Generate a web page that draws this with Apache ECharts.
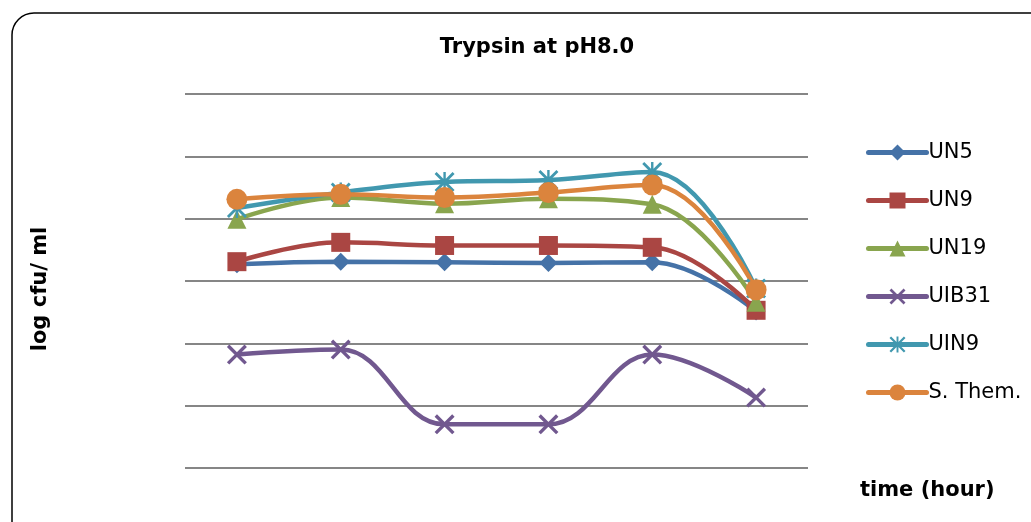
<!DOCTYPE html>
<html>
<head>
<meta charset="utf-8">
<script src="https://cdn.jsdelivr.net/npm/echarts@6/dist/echarts.min.js"></script>
<style>
  html, body { margin: 0; padding: 0; background: #fff; }
  #main { width: 1031px; height: 522px; }
</style>
</head>
<body>
<div id="main"></div>
<script>
// sampling times (no labels shown on the axis)
var times = ['1', '2', '3', '4', '5', '6']

// log cfu/ml
var un5 = [3.27, 3.31, 3.30, 3.29, 3.30, 2.51]
var un9 = [3.31, 3.62, 3.57, 3.57, 3.54, 2.53]
var un19 = [3.99, 4.34, 4.24, 4.32, 4.23, 2.66]
var uib31 = [1.82, 1.90, 0.70, 0.70, 1.82, 1.13]
var uin9 = [4.17, 4.42, 4.59, 4.62, 4.75, 2.88]
var sThem = [4.31, 4.39, 4.34, 4.42, 4.54, 2.86]

var xShape = 'path://M0,1.2 L1.2,0 L10,8.8 L8.8,10 Z M8.8,0 L10,1.2 L1.2,10 L0,8.8 Z'
var starShape = 'path://M4.4,0 L5.6,0 L5.6,10 L4.4,10 Z M0,1 L1,0 L10,9 L9,10 Z M9,0 L10,1 L1,10 L0,9 Z'

function makeLine (name, data, color, symbol, size) {
  return {
    name: name,
    type: 'line',
    smooth: 0.4,
    data: data,
    symbol: symbol,
    symbolSize: size,
    lineStyle: { color: color, width: 4.5 },
    itemStyle: { color: color },
    emphasis: { disabled: true }
  }
}

var chart = echarts.init(document.getElementById('main'))
var option = {
  backgroundColor: '#fff',
  animation: false,
  title: [{
    text: 'Trypsin at pH8.0',
    left: 532,
    textAlign: 'center',
    top: 32,
    textStyle: { fontFamily: 'DejaVu Sans', fontWeight: 'bold', fontSize: 21, color: '#000' }
  }, {
    text: 'time (hour)',
    left: 855,
    top: 475,
    textStyle: { fontFamily: 'DejaVu Sans', fontWeight: 'bold', fontSize: 21, color: '#000' }
  }],
  graphic: [{
    type: 'rect',
    shape: { x: 12, y: 13, width: 1040, height: 540, r: 22 },
    style: { fill: 'none', stroke: '#000', lineWidth: 1.5 },
    z: 0
  }],
  legend: {
    orient: 'vertical',
    left: 866,
    top: 142,
    padding: 0,
    itemWidth: 58,
    itemHeight: 20,
    itemGap: 27,
    lineStyle: { width: 5, cap: 'round' },
    textStyle: { fontFamily: 'DejaVu Sans', fontSize: 21, color: '#000', padding: [0, 0, 0, -3] }
  },
  grid: { left: 185, right: 223, top: 94, bottom: 54 },
  xAxis: {
    type: 'category',
    data: times,
    axisLine: { show: false },
    axisTick: { show: false },
    axisLabel: { show: false }
  },
  yAxis: {
    type: 'value',
    min: 0,
    max: 6,
    interval: 1,
    name: 'log cfu/ ml',
    nameLocation: 'middle',
    nameRotate: 90,
    nameGap: 134,
    nameTextStyle: { fontFamily: 'DejaVu Sans', fontWeight: 'bold', fontSize: 21, color: '#000', padding: [0, 16, 0, 0] },
    axisLabel: { show: false },
    axisLine: { show: false },
    axisTick: { show: false },
    splitLine: { lineStyle: { color: '#868686', width: 2 } }
  },
  series: [
    makeLine('UN5', un5, '#4572A7', 'diamond', 18),
    makeLine('UN9', un9, '#AA4643', 'rect', 19),
    makeLine('UN19', un19, '#89A54E', 'triangle', 19),
    makeLine('UIB31', uib31, '#71588F', xShape, 20),
    makeLine('UIN9', uin9, '#4198AF', starShape, 20),
    makeLine('S. Them.', sThem, '#DB843D', 'circle', 21)
  ]
}
option && chart.setOption(option)
</script>
</body>
</html>
